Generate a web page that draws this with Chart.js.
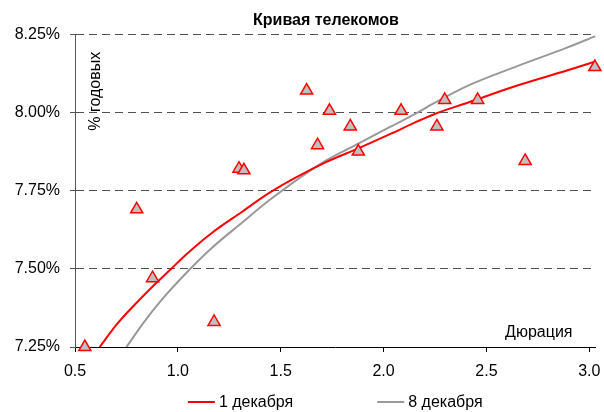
<!DOCTYPE html>
<html>
<head>
<meta charset="utf-8">
<script src="https://cdn.jsdelivr.net/npm/chart.js@4"></script>
<style>
  html, body { margin: 0; padding: 0; background: #fff; }
  #wrap { width: 604px; height: 412px; }
</style>
</head>
<body>
<div id="wrap"><canvas id="myChart" width="604" height="412"></canvas></div>
<script>
// Telecom bonds: duration vs yield
const bondDuration = [0.548, 0.80, 0.877, 1.176, 1.297, 1.321, 1.626, 1.679, 1.737, 1.838, 1.877, 2.085, 2.259, 2.297, 2.457, 2.688, 3.027];
const bondYield = [7.25, 7.69, 7.47, 7.33, 7.82, 7.815, 8.07, 7.895, 8.005, 7.955, 7.875, 8.005, 7.955, 8.04, 8.04, 7.845, 8.145];

// Fitted curves
const dec1Duration = [0.62, 0.70, 0.79, 0.886, 0.969, 1.046, 1.162, 1.307, 1.45, 1.717, 1.877, 2.036, 2.167, 2.249, 2.408, 2.65, 2.891, 3.03];
const dec1Yield = [7.25, 7.32, 7.385, 7.449, 7.501, 7.549, 7.613, 7.68, 7.745, 7.84, 7.885, 7.932, 7.972, 7.995, 8.031, 8.086, 8.134, 8.163];
const dec8Duration = [0.75, 0.838, 0.92, 1.056, 1.162, 1.307, 1.452, 1.717, 1.877, 2.036, 2.167, 2.249, 2.408, 2.65, 2.891, 3.03];
const dec8Yield = [7.25, 7.332, 7.4, 7.497, 7.565, 7.645, 7.723, 7.845, 7.9, 7.955, 8.0, 8.031, 8.085, 8.148, 8.207, 8.244];

const seriesNames = ["1 декабря", "8 декабря"];
const xTicks = [0.5, 1.0, 1.5, 2.0, 2.5, 3.0];
const yTicks = [7.25, 7.5, 7.75, 8.0, 8.25];

const toPoints = (xs, ys) => xs.map((x, i) => ({ x: x, y: ys[i] }));
const FONT = '"Liberation Sans", Arial, sans-serif';

Chart.defaults.font.family = FONT;
Chart.defaults.color = "#000";

// extra texts, legend and title shift
const extras = {
  id: "extras",
  afterLayout(chart) {
    if (chart.titleBlock) {
      chart.titleBlock.left += 25;
      chart.titleBlock.right += 25;
    }
  },
  afterDraw(chart) {
    const ctx = chart.ctx;
    const a = chart.chartArea;
    ctx.save();
    ctx.fillStyle = "#000";
    ctx.font = "16px " + FONT;

    // y axis title inside plot
    ctx.save();
    ctx.translate(a.left + 21, a.top + 57);
    ctx.rotate(-Math.PI / 2);
    ctx.textAlign = "center";
    ctx.textBaseline = "middle";
    ctx.fillText("% годовых", 0, 0);
    ctx.restore();

    // x axis title inside plot
    ctx.textAlign = "right";
    ctx.textBaseline = "middle";
    ctx.fillText("Дюрация", a.right - 23, a.bottom - 14);

    // legend
    const items = chart.data.datasets.slice(1);
    const lineW = 27, gapText = 4, gapItem = 84;
    const widths = items.map(d => lineW + gapText + ctx.measureText(d.label).width);
    const total = widths.reduce((s, w) => s + w, 0) + gapItem * (items.length - 1);
    let x = (a.left + a.right) / 2 - total / 2;
    const y = 402;
    ctx.textAlign = "left";
    items.forEach((d, i) => {
      ctx.strokeStyle = d.borderColor;
      ctx.lineWidth = 2;
      ctx.beginPath();
      ctx.moveTo(x, y);
      ctx.lineTo(x + lineW, y);
      ctx.stroke();
      ctx.fillText(d.label, x + lineW + gapText, y + 1);
      x += widths[i] + gapItem;
    });
    ctx.restore();
  },
};

new Chart(document.getElementById("myChart"), {
  type: "scatter",
  data: {
    datasets: [
      {
        label: "Облигации",
        data: toPoints(bondDuration, bondYield),
        pointStyle: "triangle",
        pointRadius: 7,
        pointBackgroundColor: "#c0c0c0",
        pointBorderColor: "#ff0000",
        pointBorderWidth: 1.5,
        clip: false,
      },
      {
        label: seriesNames[0],
        data: toPoints(dec1Duration, dec1Yield),
        showLine: true,
        borderColor: "#ff0000",
        borderWidth: 2,
        pointRadius: 0,
        cubicInterpolationMode: "monotone",
      },
      {
        label: seriesNames[1],
        data: toPoints(dec8Duration, dec8Yield),
        showLine: true,
        borderColor: "#999999",
        borderWidth: 2,
        pointRadius: 0,
        cubicInterpolationMode: "monotone",
      },
    ],
  },
  options: {
    responsive: false,
    animation: false,
    layout: { padding: { left: 0, right: 2, top: 0, bottom: 30 } },
    plugins: {
      legend: { display: false },
      tooltip: { enabled: false },
      title: {
        display: true,
        text: "Кривая телекомов",
        color: "#000",
        font: { size: 16, weight: "bold" },
        padding: { top: 11, bottom: 4 },
      },
    },
    scales: {
      x: {
        type: "linear",
        min: 0.5,
        max: 3.03,
        afterBuildTicks: s => { s.ticks = xTicks.map(v => ({ value: v })); },
        afterFit: s => { s.height = 35; s.paddingRight = 0; s.paddingLeft = 0; },
        ticks: {
          font: { size: 16 },
          color: "#000",
          padding: 10,
          maxRotation: 0,
          callback: v => v.toFixed(1),
        },
        grid: { drawOnChartArea: false, drawTicks: true, tickLength: 5, tickColor: "#000" },
        border: { display: true, color: "#000", width: 1 },
      },
      y: {
        type: "linear",
        min: 7.25,
        max: 8.25,
        afterBuildTicks: s => { s.ticks = yTicks.map(v => ({ value: v })); },
        afterFit: s => { s.width = 75; s.paddingTop = 0; s.paddingBottom = 0; },
        ticks: {
          font: { size: 16 },
          color: "#000",
          padding: 10,
          callback: v => v.toFixed(2) + "%",
        },
        grid: {
          color: c => (c.tick && c.tick.value === 7.25 ? "rgba(0,0,0,0)" : "#505050"),
          lineWidth: 1,
          drawTicks: true,
          tickLength: 5,
          tickColor: "#555",
        },
        border: { display: true, color: "#555", width: 1, dash: [8, 5] },
      },
    },
  },
  plugins: [extras],
});
</script>
</body>
</html>
